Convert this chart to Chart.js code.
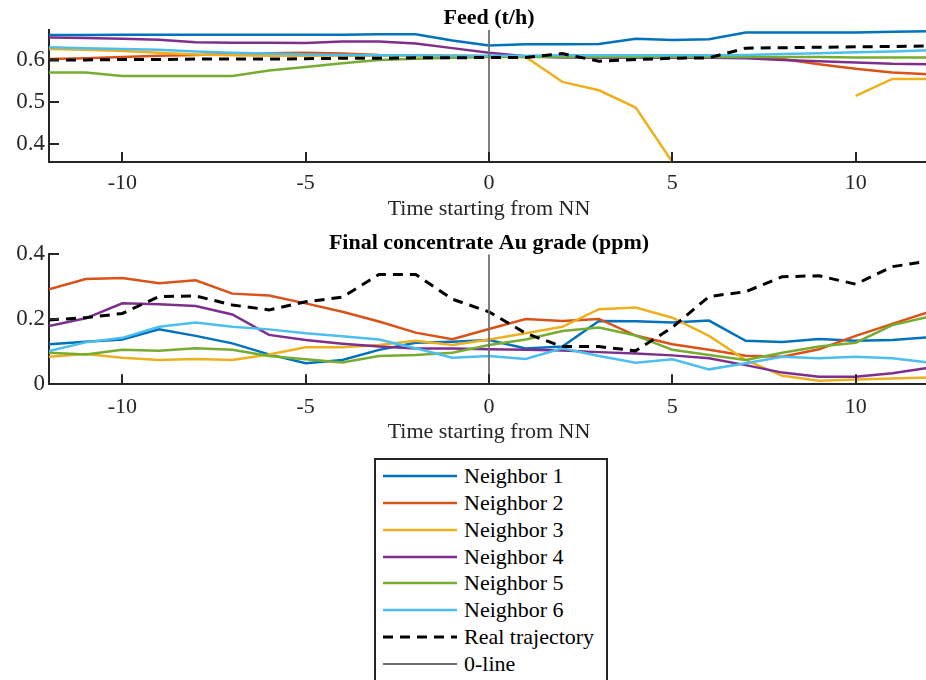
<!DOCTYPE html>
<html>
<head>
<meta charset="utf-8">
<script src="https://cdn.jsdelivr.net/npm/chart.js@4.4.1/dist/chart.umd.min.js"></script>
<style>
  html, body { margin: 0; padding: 0; background: #fff; overflow: hidden; }
  #wrap { position: relative; width: 926px; height: 680px; overflow: hidden; }
  #wrap canvas { position: absolute; left: 0; }
  #feedChart { top: 0; }
  #gradeChart { top: 225px; }
  #legend {
    position: absolute; left: 374px; top: 458px; width: 234px; height: 240px;
    box-sizing: border-box; border: 2px solid #262626; background: #fff;
    padding-top: 3px;
    font-family: 'Liberation Serif', 'Times New Roman', serif; font-size: 22px; color: #000;
  }
  .row { height: 26.76px; display: flex; align-items: center; white-space: nowrap; }
  .row svg { margin: 0 7px 0 7px; flex: none; }
</style>
</head>
<body>
<div id="wrap">
  <canvas id="feedChart" width="929" height="225"></canvas>
  <canvas id="gradeChart" width="929" height="225"></canvas>
  <div id="legend"></div>
</div>
<script>
// time axis (steps around the NN point)
const timeSteps = [-12, -11, -10, -9, -8, -7, -6, -5, -4, -3, -2, -1, 0, 1, 2, 3, 4, 5, 6, 7, 8, 9, 10, 11, 12];
const xTicks = [-10, -5, 0, 5, 10];

// Feed (t/h)
const feedN1 = [0.659, 0.659, 0.660, 0.660, 0.660, 0.660, 0.660, 0.660, 0.660, 0.661, 0.661, 0.646, 0.634, 0.637, 0.637, 0.638, 0.650, 0.647, 0.649, 0.665, 0.665, 0.665, 0.665, 0.667, 0.668];
const feedN2 = [0.602, 0.604, 0.607, 0.610, 0.612, 0.614, 0.616, 0.617, 0.615, 0.612, 0.611, 0.610, 0.609, 0.608, 0.608, 0.608, 0.608, 0.608, 0.608, 0.607, 0.602, 0.590, 0.579, 0.570, 0.566];
const feedN3 = [0.626, 0.624, 0.621, 0.617, 0.613, 0.611, 0.610, 0.610, 0.610, 0.610, 0.610, 0.610, 0.609, 0.607, 0.548, 0.528, 0.487, 0.358, null, null, null, null, 0.515, 0.555, 0.555];
const feedN4 = [0.653, 0.652, 0.650, 0.648, 0.642, 0.641, 0.641, 0.640, 0.644, 0.644, 0.639, 0.628, 0.617, 0.609, 0.606, 0.605, 0.605, 0.605, 0.605, 0.604, 0.600, 0.597, 0.594, 0.591, 0.590];
const feedN5 = [0.570, 0.570, 0.562, 0.562, 0.562, 0.562, 0.575, 0.583, 0.592, 0.600, 0.603, 0.605, 0.607, 0.607, 0.607, 0.607, 0.607, 0.607, 0.607, 0.607, 0.607, 0.607, 0.606, 0.606, 0.606];
const feedN6 = [0.630, 0.628, 0.626, 0.624, 0.620, 0.617, 0.615, 0.613, 0.612, 0.611, 0.611, 0.610, 0.610, 0.610, 0.611, 0.611, 0.611, 0.611, 0.611, 0.612, 0.614, 0.616, 0.618, 0.620, 0.623];
const feedReal = [0.600, 0.600, 0.601, 0.601, 0.602, 0.602, 0.602, 0.603, 0.604, 0.604, 0.605, 0.605, 0.606, 0.606, 0.615, 0.597, 0.601, 0.604, 0.605, 0.628, 0.629, 0.630, 0.631, 0.632, 0.633];
const feedRange = [0.358, 0.671];
const feedTicks = [0.4, 0.5, 0.6];

// Final concentrate Au grade (ppm)
const gradeN1 = [0.123, 0.131, 0.138, 0.169, 0.149, 0.126, 0.092, 0.065, 0.075, 0.106, 0.128, 0.131, 0.136, 0.110, 0.116, 0.195, 0.194, 0.190, 0.196, 0.134, 0.130, 0.139, 0.134, 0.136, 0.145];
const gradeN2 = [0.292, 0.324, 0.327, 0.311, 0.320, 0.279, 0.273, 0.249, 0.223, 0.193, 0.159, 0.139, 0.170, 0.201, 0.195, 0.201, 0.150, 0.123, 0.106, 0.088, 0.085, 0.108, 0.149, 0.186, 0.223];
const gradeN3 = [0.085, 0.093, 0.082, 0.075, 0.078, 0.075, 0.092, 0.114, 0.114, 0.121, 0.134, 0.121, 0.138, 0.157, 0.177, 0.231, 0.236, 0.205, 0.149, 0.075, 0.026, 0.011, 0.015, 0.018, 0.021];
const gradeN4 = [0.179, 0.203, 0.249, 0.246, 0.241, 0.215, 0.152, 0.136, 0.125, 0.116, 0.110, 0.110, 0.108, 0.106, 0.104, 0.099, 0.095, 0.089, 0.080, 0.059, 0.036, 0.023, 0.023, 0.034, 0.051];
const gradeN5 = [0.097, 0.092, 0.106, 0.103, 0.111, 0.106, 0.087, 0.077, 0.067, 0.087, 0.090, 0.097, 0.121, 0.138, 0.164, 0.175, 0.150, 0.106, 0.090, 0.075, 0.097, 0.116, 0.128, 0.182, 0.208];
const gradeN6 = [0.102, 0.129, 0.143, 0.177, 0.190, 0.177, 0.169, 0.157, 0.148, 0.138, 0.111, 0.082, 0.087, 0.078, 0.111, 0.087, 0.066, 0.077, 0.046, 0.065, 0.085, 0.080, 0.085, 0.080, 0.067];
const gradeReal = [0.198, 0.205, 0.218, 0.270, 0.272, 0.244, 0.229, 0.254, 0.268, 0.338, 0.338, 0.262, 0.223, 0.157, 0.116, 0.116, 0.103, 0.175, 0.270, 0.285, 0.331, 0.334, 0.308, 0.362, 0.379];
const gradeRange = [0, 0.4];
const gradeTicks = [0, 0.2, 0.4];

const neighborNames = ['Neighbor 1', 'Neighbor 2', 'Neighbor 3', 'Neighbor 4', 'Neighbor 5', 'Neighbor 6'];
const neighborColors = ['#0072BD', '#D95319', '#EDB120', '#7E2F8E', '#77AC30', '#4DBEEE'];
const realName = 'Real trajectory';
const zeroName = '0-line';

const FONT = "'Liberation Serif', 'Times New Roman', serif";
const AXIS_COLOR = '#262626';
const ZERO_COLOR = '#707070';
const REAL_DASH = [10, 7];
const LINE_W = 2.5;
const REAL_W = 3;
const ZERO_W = 1.8;

const toPoints = (ys) => ys.map((y, i) => ({ x: timeSteps[i], y: y }));

function buildDatasets(neighbors, real, range) {
  const sets = neighbors.map((ys, i) => ({
    label: neighborNames[i],
    data: toPoints(ys),
    borderColor: neighborColors[i],
    borderWidth: LINE_W
  }));
  sets.push({ label: realName, data: toPoints(real), borderColor: '#000', borderWidth: REAL_W, borderDash: REAL_DASH });
  sets.push({ label: zeroName, data: [{ x: 0, y: range[0] }, { x: 0, y: range[1] }], borderColor: ZERO_COLOR, borderWidth: ZERO_W });
  // later series are drawn on top
  sets.forEach((s, i) => {
    s.order = sets.length - i;
    s.pointRadius = 0;
    s.fill = false;
    s.tension = 0;
    s.spanGaps = false;
  });
  return sets;
}

// MATLAB style tick marks pointing into the axes
const innerTicks = {
  id: 'innerTicks',
  afterDatasetsDraw(chart) {
    const { ctx, chartArea, scales } = chart;
    ctx.save();
    ctx.strokeStyle = AXIS_COLOR;
    ctx.lineWidth = 2;
    ctx.beginPath();
    scales.x.ticks.forEach(t => {
      const px = Math.round(scales.x.getPixelForValue(t.value));
      ctx.moveTo(px, chartArea.bottom);
      ctx.lineTo(px, chartArea.bottom - 10);
    });
    scales.y.ticks.forEach(t => {
      const py = Math.round(scales.y.getPixelForValue(t.value));
      ctx.moveTo(chartArea.left, py);
      ctx.lineTo(chartArea.left + 10, py);
    });
    ctx.stroke();
    ctx.restore();
  }
};

function makeChart(id, title, neighbors, real, range, yTicks, layout) {
  return new Chart(document.getElementById(id), {
    type: 'line',
    data: { datasets: buildDatasets(neighbors, real, range) },
    plugins: [innerTicks],
    options: {
      responsive: false,
      animation: false,
      devicePixelRatio: 1,
      layout: { padding: 0 },
      plugins: {
        legend: { display: false },
        tooltip: { enabled: false },
        title: {
          display: true,
          text: title,
          fullSize: false,
          color: '#000',
          font: { family: FONT, size: 22, weight: 'bold', lineHeight: 1 },
          padding: { top: 7, bottom: layout.titleGap }
        }
      },
      scales: {
        x: {
          type: 'linear',
          min: timeSteps[0],
          max: timeSteps[timeSteps.length - 1],
          afterBuildTicks: s => { s.ticks = xTicks.map(v => ({ value: v })); },
          afterFit: s => { s.height = layout.xHeight; },
          grid: { display: false, drawTicks: false },
          border: { display: true, color: AXIS_COLOR, width: 2 },
          ticks: {
            color: AXIS_COLOR, padding: layout.xPad, maxRotation: 0, autoSkip: false,
            font: { family: FONT, size: 22 },
            callback: v => String(v)
          },
          title: {
            display: true, text: 'Time starting from NN', color: AXIS_COLOR,
            font: { family: FONT, size: 22, lineHeight: 1 },
            padding: { top: 0, bottom: layout.titlePad }
          }
        },
        y: {
          min: range[0],
          max: range[1],
          afterBuildTicks: s => { s.ticks = yTicks.map(v => ({ value: v })); },
          afterFit: s => { s.width = 49; },
          grid: { display: false, drawTicks: false },
          border: { display: true, color: AXIS_COLOR, width: 2 },
          ticks: {
            color: AXIS_COLOR, padding: 4,
            font: { family: FONT, size: 23 },
            callback: v => String(v)
          }
        }
      }
    }
  });
}

makeChart('feedChart', 'Feed (t/h)',
  [feedN1, feedN2, feedN3, feedN4, feedN5, feedN6], feedReal, feedRange, feedTicks,
  { titleGap: 1, xHeight: 63, xPad: 8, titlePad: 5 });

makeChart('gradeChart', 'Final concentrate Au grade (ppm)',
  [gradeN1, gradeN2, gradeN3, gradeN4, gradeN5, gradeN6], gradeReal, gradeRange, gradeTicks,
  { titleGap: 0.3, xHeight: 65.7, xPad: 9.5, titlePad: 6.5 });

// legend under the two panels
const legendItems = neighborNames.map((n, i) => ({ name: n, color: neighborColors[i], width: LINE_W, dash: '' }));
legendItems.push({ name: realName, color: '#000', width: REAL_W, dash: REAL_DASH.join(' ') });
legendItems.push({ name: zeroName, color: ZERO_COLOR, width: ZERO_W, dash: '' });

document.getElementById('legend').innerHTML = legendItems.map(item => `
  <div class="row">
    <svg width="74" height="6"><line x1="0" y1="3" x2="74" y2="3" stroke="${item.color}" stroke-width="${item.width}" stroke-dasharray="${item.dash}"/></svg>
    <span>${item.name}</span>
  </div>`).join('');
</script>
</body>
</html>
